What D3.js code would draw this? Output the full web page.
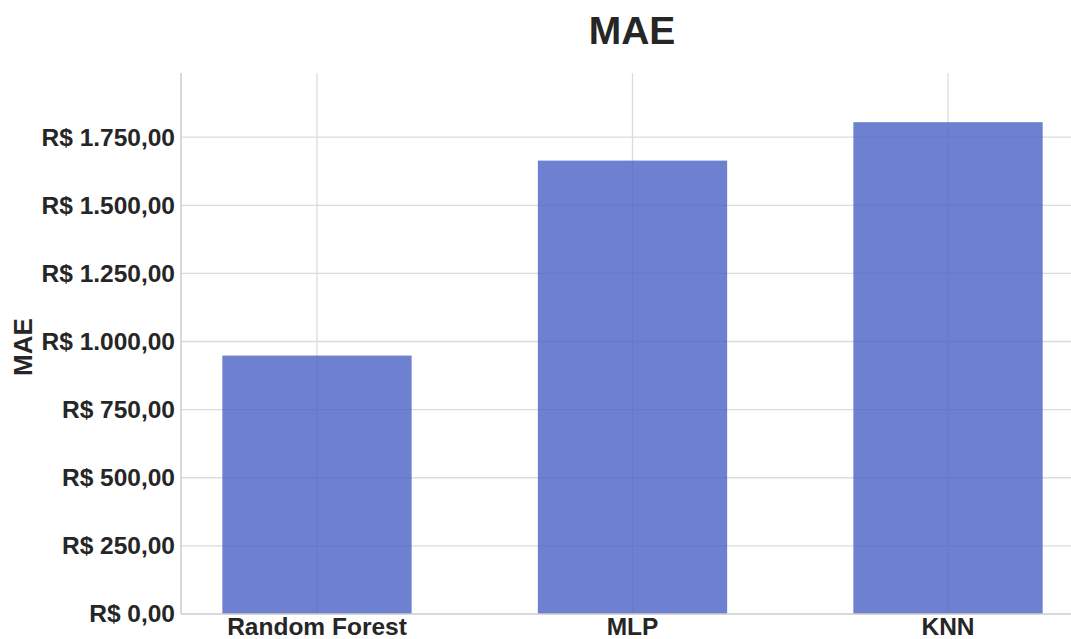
<!DOCTYPE html>
<html>
<head>
<meta charset="utf-8">
<script src="https://cdn.jsdelivr.net/npm/d3@7"></script>
<style>
  html, body { margin: 0; padding: 0; background: #fff; }
  svg { display: block; font-family: "Liberation Sans", Arial, sans-serif; }
</style>
</head>
<body>
<svg id="chart" width="1071" height="639"></svg>
<script>
// Mean absolute error per model (R$)
const models = ["Random Forest", "MLP", "KNN"];
const maeValues = [948.5, 1664, 1805];
const yTicks = [0, 250, 500, 750, 1000, 1250, 1500, 1750];

const W = 1071, H = 639;
const plotLeft = 181, plotBottom = 614, plotTop = 73, plotRight = 1084;

const svg = d3.select("#chart");

const x = d3.scaleBand()
  .domain(models)
  .range([plotLeft, plotRight])
  .paddingInner(0.4)
  .paddingOuter(0.131);

const y = d3.scaleLinear()
  .domain([0, d3.max(maeValues) * 1.1])
  .range([plotBottom, plotTop]);

const brl = v => "R$ " + v.toLocaleString("pt-BR", { minimumFractionDigits: 2, maximumFractionDigits: 2 });

const textColor = "#262626";
const gridColor = "#dcdcdc";

// horizontal grid
svg.append("g")
  .selectAll("line")
  .data(yTicks.filter(d => d > 0))
  .join("line")
  .attr("x1", plotLeft).attr("x2", W)
  .attr("y1", d => y(d)).attr("y2", d => y(d))
  .attr("stroke", gridColor).attr("stroke-width", 1.3);

// vertical grid at category centers
svg.append("g")
  .selectAll("line")
  .data(models)
  .join("line")
  .attr("x1", d => x(d) + x.bandwidth() / 2)
  .attr("x2", d => x(d) + x.bandwidth() / 2)
  .attr("y1", plotTop).attr("y2", plotBottom)
  .attr("stroke", gridColor).attr("stroke-width", 1.3);

// bars
svg.append("g")
  .selectAll("rect")
  .data(models.map((m, i) => ({ m, v: maeValues[i] })))
  .join("rect")
  .attr("x", d => x(d.m))
  .attr("width", x.bandwidth())
  .attr("y", d => y(d.v))
  .attr("height", d => plotBottom - y(d.v))
  .attr("fill", "#4a62c4")
  .attr("fill-opacity", 0.8);

// axes
const yAxis = svg.append("g")
  .attr("transform", `translate(${plotLeft},0)`)
  .call(d3.axisLeft(y).tickValues(yTicks).tickFormat(brl).tickSize(0).tickPadding(6));
yAxis.select(".domain").attr("stroke", "#cccccc").attr("stroke-width", 1.5)
  .attr("d", `M0,${plotTop}V${plotBottom}`);
yAxis.selectAll("text")
  .attr("font-size", 24.5).attr("font-weight", "bold")
  .attr("fill", textColor).attr("font-family", "Liberation Sans, Arial, sans-serif");

const xAxis = svg.append("g")
  .attr("transform", `translate(0,${plotBottom})`)
  .call(d3.axisBottom(x).tickSize(0).tickPadding(4));
xAxis.select(".domain").attr("stroke", "#cccccc").attr("stroke-width", 1.5)
  .attr("d", `M${plotLeft},0H${W}`);
xAxis.selectAll("text")
  .attr("font-size", 24.5).attr("font-weight", "bold")
  .attr("fill", textColor).attr("font-family", "Liberation Sans, Arial, sans-serif");

// title
svg.append("text")
  .attr("x", 632).attr("y", 44)
  .attr("text-anchor", "middle")
  .attr("font-size", 39).attr("font-weight", "bold")
  .attr("fill", textColor)
  .text("MAE");

// y axis label
svg.append("text")
  .attr("transform", `translate(32,${347}) rotate(-90)`)
  .attr("text-anchor", "middle")
  .attr("font-size", 26).attr("font-weight", "bold")
  .attr("fill", textColor)
  .text("MAE");
</script>
</body>
</html>
